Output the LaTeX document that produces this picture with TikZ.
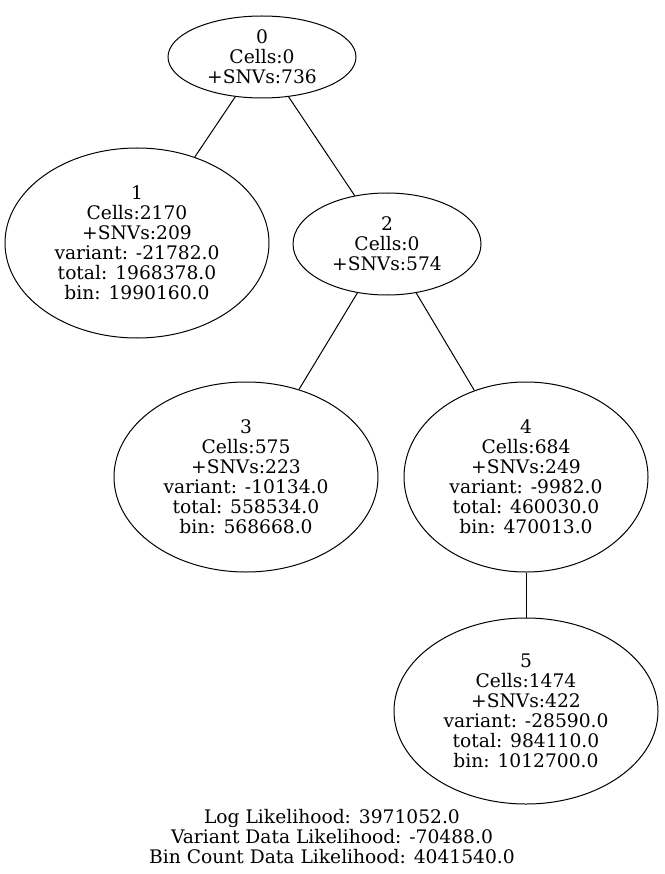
\documentclass[tikz,border=0pt]{standalone}
\usepackage{fontspec}
\setmainfont{DejaVu Serif}
\usetikzlibrary{shapes.geometric}
\tikzset{
  x=1pt, y=-1pt,
  every node/.style={align=center, font=\fontsize{18.67}{20}\selectfont},
  clone/.style 2 args={ellipse, draw, line width=1pt, inner sep=0pt,
    minimum width=#1pt, minimum height=#2pt},
  link/.style={line width=1pt}
}
\begin{document}
\begin{tikzpicture}
  \useasboundingbox (0,0) rectangle (664,874);
  \node[clone={188}{82}] (n0) at (262,57) {0\\Cells:0\\+SNVs:736};
  \node[clone={264}{190}] (n1) at (137,243) {1\\Cells:2170\\+SNVs:209\\variant: -21782.0\\total: 1968378.0\\bin: 1990160.0};
  \node[clone={188}{102}] (n2) at (387,244) {2\\Cells:0\\+SNVs:574};
  \node[clone={264}{190}] (n3) at (246,477) {3\\Cells:575\\+SNVs:223\\variant: -10134.0\\total: 558534.0\\bin: 568668.0};
  \node[clone={244}{190}] (n4) at (526,477) {4\\Cells:684\\+SNVs:249\\variant: -9982.0\\total: 460030.0\\bin: 470013.0};
  \node[clone={264}{186}] (n5) at (526,711) {5\\Cells:1474\\+SNVs:422\\variant: -28590.0\\total: 984110.0\\bin: 1012700.0};
  \node (caption) at (332,837) {Log Likelihood: 3971052.0\\Variant Data Likelihood: -70488.0\\Bin Count Data Likelihood: 4041540.0};
  \draw[link] (n0) -- (n1);
  \draw[link] (n0) -- (n2);
  \draw[link] (n2) -- (n3);
  \draw[link] (n2) -- (n4);
  \draw[link] (n4) -- (n5);
\end{tikzpicture}
\end{document}
